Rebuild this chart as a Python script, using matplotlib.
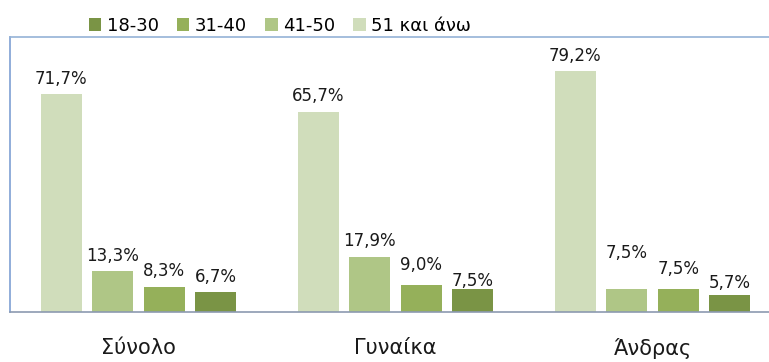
import matplotlib
matplotlib.use("Agg")
import matplotlib.pyplot as plt
from matplotlib.patches import Patch
import numpy as np

plt.rcParams['font.family'] = ['DejaVu Sans']

# Data
categories = ["Σύνολο", "Γυναίκα", "Άνδρας"]
age_groups = ["18-30", "31-40", "41-50", "51 και άνω"]
values_18_30 = [6.7, 7.5, 5.7]
values_31_40 = [8.3, 9.0, 7.5]
values_41_50 = [13.3, 17.9, 7.5]
values_51_up = [71.7, 65.7, 79.2]

colors = {
    "18-30": "#7A9445",
    "31-40": "#95B05A",
    "41-50": "#AFC686",
    "51 και άνω": "#D0DDBB",
}

series = {
    "18-30": values_18_30,
    "31-40": values_31_40,
    "41-50": values_41_50,
    "51 και άνω": values_51_up,
}

# bars inside each group are drawn oldest group first
draw_order = ["51 και άνω", "41-50", "31-40", "18-30"]

# vertical gap (pixels) between each bar top and its label baseline
label_gap_px = {
    "51 και άνω": [10, 11, 10],
    "41-50": [10, 11, 31],
    "31-40": [11, 15, 15],
    "18-30": [10, 3, 7],
}

fig = plt.figure(figsize=(7.69, 3.62), dpi=100)
W, H = 769, 362
ax = fig.add_axes([10 / W, 50 / H, 771 / W, 275 / H])

x = np.arange(len(categories))
slot = 0.2
width = 0.16
offsets = [-1.5, -0.5, 0.5, 1.5]

for off, key in zip(offsets, draw_order):
    vals = series[key]
    bars = ax.bar(x + off * slot, vals, width=width, color=colors[key],
                  edgecolor="none", zorder=2)
    for i, (b, v) in enumerate(zip(bars, vals)):
        gap_pt = label_gap_px[key][i] * 72 / 100
        ax.annotate(f"{v:.1f}%".replace(".", ","),
                    xy=(b.get_x() + b.get_width() / 2, v),
                    xytext=(0, gap_pt), textcoords="offset points",
                    ha="center", va="baseline", fontsize=12, color="#1a1a1a")

ax.set_xlim(-0.5, 2.5)
ax.set_ylim(0, 90.3)
ax.set_yticks([])
ax.set_xticks(x)
ax.set_xticklabels(categories, fontsize=15, color="#1a1a1a")
ax.tick_params(axis="x", length=0, pad=19)

ax.spines["left"].set_color("#7E9FD3")
ax.spines["top"].set_color("#95B3D7")
ax.spines["bottom"].set_color("#8C9AB0")
ax.spines["right"].set_color("#95B3D7")
for s in ax.spines.values():
    s.set_linewidth(1.2)

handles = [Patch(facecolor=colors[k], edgecolor="none") for k in age_groups]
fig.legend(handles, age_groups, loc="center", bbox_to_anchor=(280 / W, 1 - 26 / H),
           ncol=4, frameon=False, fontsize=13, handlelength=0.7, handleheight=0.7,
           handletextpad=0.3, columnspacing=1.0, borderaxespad=0, borderpad=0)

fig.savefig("out.png", dpi=100)
